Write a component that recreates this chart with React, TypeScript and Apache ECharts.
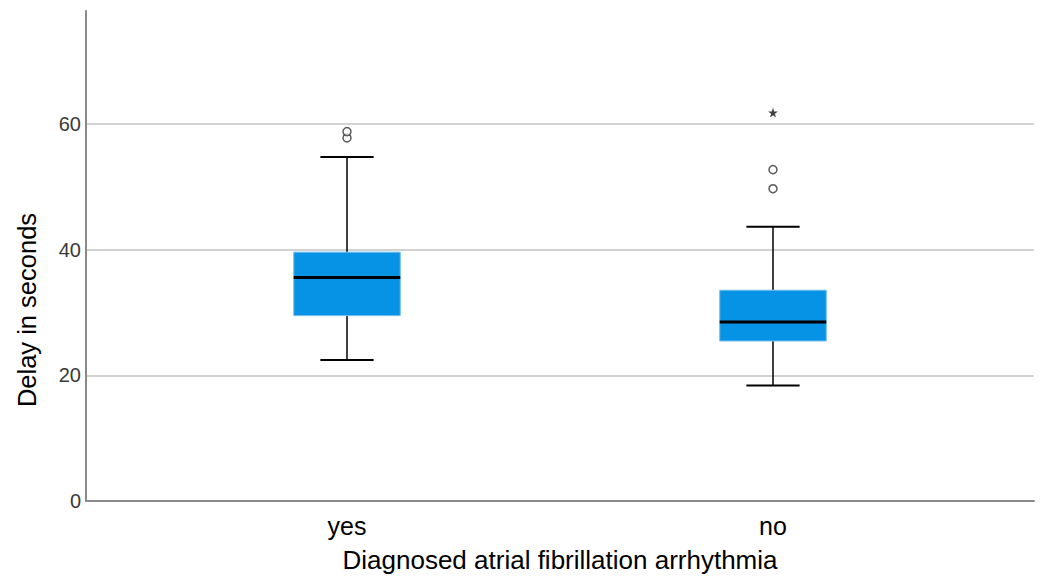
import React, { useEffect, useRef } from "react";
import * as echarts from "echarts";

const categories = ["yes", "no"];
// [min whisker, Q1, median, Q3, max whisker]
const boxValues = [
  [23, 30, 36, 40, 55],
  [19, 26, 29, 34, 44],
];
const outliers = [
  [0, 58],
  [0, 59],
  [1, 50],
  [1, 53],
];
const extremes = [[1, 62]];
const yTicks = [0, 20, 40, 60];
const yMax = 78;

const FONT = "'Liberation Sans', Arial, sans-serif";
const STAR = "path://M50,0 L61,35 L98,35 L68,57 L79,91 L50,70 L21,91 L32,57 L2,35 L39,35 Z";

export default function App() {
  const ref = useRef<HTMLDivElement>(null);
  useEffect(() => {
    document.body.style.margin = "0";
    const chart = echarts.init(ref.current!, null, { renderer: "svg" });
    const boxData = boxValues.map((b, i) => [i, ...b]);
    chart.setOption({
      animation: false,
      textStyle: { fontFamily: FONT },
      grid: [
        { left: 86, right: 13, top: 11, bottom: 72 },
        { left: 134, right: 61, top: 11, bottom: 72 },
      ],
      graphic: [
        {
          type: "text",
          x: 27,
          y: 310,
          rotation: Math.PI / 2,
          style: {
            text: "Delay in seconds",
            fontSize: 25.5,
            fontFamily: FONT,
            fill: "#000",
            align: "center",
            verticalAlign: "middle",
          },
        },
      ],
      xAxis: [
        {
          type: "value",
          gridIndex: 0,
          min: 0,
          max: 1,
          axisLine: { show: true, lineStyle: { color: "#8a8a8a", width: 2 } },
          axisTick: { show: false },
          axisLabel: { show: false },
          splitLine: { show: false },
          name: "Diagnosed atrial fibrillation arrhythmia",
          nameLocation: "middle",
          nameGap: 46,
          nameTextStyle: { fontSize: 26, color: "#000", fontFamily: FONT },
        },
        {
          type: "category",
          gridIndex: 1,
          data: categories,
          axisLine: { show: false },
          axisTick: { show: false },
          axisLabel: { fontSize: 25, color: "#000", margin: 7, fontFamily: FONT },
          splitLine: { show: false },
        },
      ],
      yAxis: [
        {
          type: "value",
          gridIndex: 0,
          min: 0,
          max: yMax,
          interval: 20,
          axisLine: { show: true, lineStyle: { color: "#8a8a8a", width: 2 } },
          axisTick: { show: false },
          axisLabel: {
            fontSize: 20,
            color: "#3a3a3a",
            margin: 5,
            fontFamily: FONT,
            customValues: yTicks,
          },
          splitLine: {
            show: true,
            showMaxLine: false,
            lineStyle: { color: "#d2d2d2", width: 2 },
          },
        },
        {
          type: "value",
          gridIndex: 1,
          min: 0,
          max: yMax,
          interval: 20,
          show: false,
          splitLine: { show: false },
        },
      ],
      series: [
        {
          type: "custom",
          xAxisIndex: 1,
          yAxisIndex: 1,
          data: boxData,
          encode: { x: 0, y: [1, 2, 3, 4, 5] },
          renderItem: (params: any, api: any) => {
            const x = api.value(0);
            const band = api.size([1, 0])[0];
            const bw = band * 0.25;
            const cw = band * 0.125;
            const pLow = api.coord([x, api.value(1)]);
            const pQ1 = api.coord([x, api.value(2)]);
            const pMed = api.coord([x, api.value(3)]);
            const pQ3 = api.coord([x, api.value(4)]);
            const pHigh = api.coord([x, api.value(5)]);
            const cx = pMed[0];
            const lineStyle = { stroke: "#000", lineWidth: 1.5 };
            return {
              type: "group",
              children: [
                { type: "line", shape: { x1: cx, y1: pLow[1], x2: cx, y2: pQ1[1] }, style: lineStyle },
                { type: "line", shape: { x1: cx, y1: pQ3[1], x2: cx, y2: pHigh[1] }, style: lineStyle },
                { type: "line", shape: { x1: cx - cw / 2, y1: pLow[1], x2: cx + cw / 2, y2: pLow[1] }, style: { stroke: "#000", lineWidth: 2 } },
                { type: "line", shape: { x1: cx - cw / 2, y1: pHigh[1], x2: cx + cw / 2, y2: pHigh[1] }, style: { stroke: "#000", lineWidth: 2 } },
                {
                  type: "rect",
                  shape: { x: cx - bw / 2, y: pQ3[1], width: bw, height: pQ1[1] - pQ3[1] },
                  style: { fill: "#0693e5", stroke: "#6fbdee", lineWidth: 1 },
                },
                { type: "line", shape: { x1: cx - bw / 2, y1: pMed[1], x2: cx + bw / 2, y2: pMed[1] }, style: { stroke: "#000", lineWidth: 3 } },
              ],
            };
          },
        },
        {
          type: "scatter",
          xAxisIndex: 1,
          yAxisIndex: 1,
          data: outliers,
          symbol: "circle",
          symbolSize: 8,
          itemStyle: { color: "#fff", borderColor: "#333", borderWidth: 1.5 },
        },
        {
          type: "scatter",
          xAxisIndex: 1,
          yAxisIndex: 1,
          data: extremes,
          symbol: STAR,
          symbolSize: 10,
          itemStyle: { color: "#111" },
        },
      ],
    });
    return () => chart.dispose();
  }, []);
  return <div ref={ref} style={{ width: 1047, height: 578 }} />;
}
